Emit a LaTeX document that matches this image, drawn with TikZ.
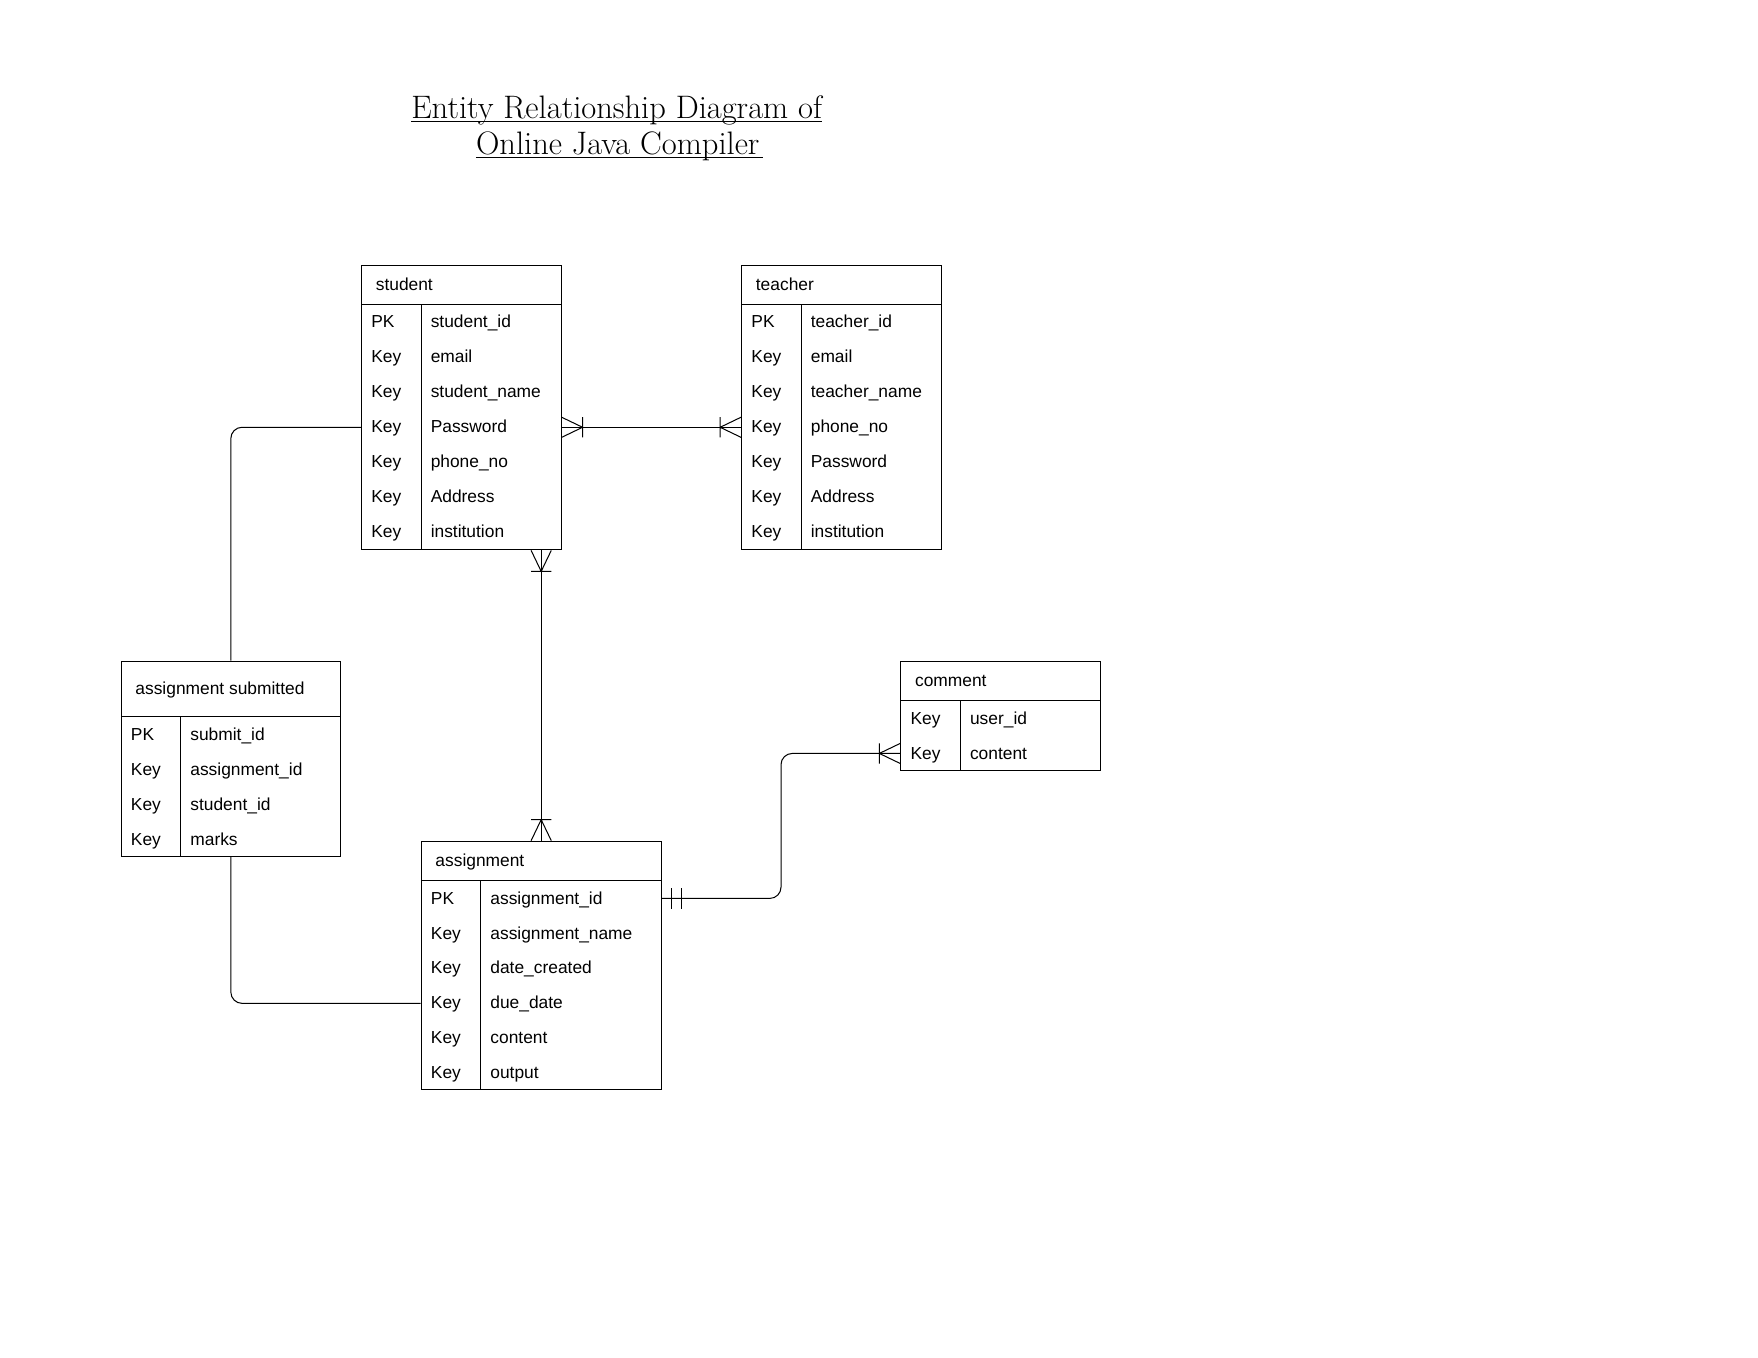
\documentclass[tikz,border=0pt]{standalone}
\usepackage{fontspec}
\setsansfont{Liberation Sans}
\usetikzlibrary{calc}

\newcommand{\entity}[6]% name, top left corner, width, height, head height, title
{\node[entitybox, minimum width=#3, minimum height=#4] (#1) at (#2) {};
\node[entitybox, minimum width=#3, minimum height=#5] (#1-head) at (#1.north west) {};
\node[headtext] (#1-title) at ([xshift=13pt]#1-head.west) {#6};
\draw[boxline] ([xshift=53.5pt]#1-head.south west) -- ([xshift=53.5pt]#1.south west);
}
\newcommand{\entityrows}[2]% name, key/field list
{\foreach \k/\f [count=\i] in {#2}
{\node[rowtext] (#1-k\i) at ([xshift=9pt, yshift=15.6pt-31.2pt*\i]#1-head.south west) {\k};
\node[rowtext] (#1-f\i) at ([xshift=62pt, yshift=15.6pt-31.2pt*\i]#1-head.south west) {\f};
}}
\newcommand{\crowfoot}[2]% end point, direction
{\begin{scope}[shift={(#1)}, rotate=#2]
\draw[relline] (0,9) -- (18.7,0) -- (0,-9) (18.7,9) -- (18.7,-9);
\end{scope}}
\newcommand{\onlyone}[2]% end point, direction
{\begin{scope}[shift={(#1)}, rotate=#2]
\draw[relline] (8.3,9) -- (8.3,-9) (17.2,9) -- (17.2,-9);
\end{scope}}

\tikzset{
boxline/.style={line width=0.9pt},
entitybox/.style={boxline, draw, anchor=north west, inner sep=0pt},
headtext/.style={anchor=west, inner sep=0pt, text height=12.5pt, text depth=2.5pt,
  font=\sffamily\fontsize{15.5}{18}\selectfont},
rowtext/.style={headtext},
relline/.style={line width=0.9pt},
titletext/.style={anchor=base, inner sep=0pt, font=\fontsize{29}{34}\selectfont}
}

\begin{document}
\begin{tikzpicture}[x=1pt, y=-1pt]
\useasboundingbox (0,0) rectangle (1568,1211);

% title
\node[titletext] (title1) at (550,106) {Entity Relationship Diagram of};
\node[titletext] (title2) at (551,138) {Online Java Compiler};
\draw[boxline] ([yshift=-2.5pt]title1.base west) -- ([yshift=-2.5pt]title1.base east);
\draw[boxline] ([yshift=-2.5pt]title2.base west) -- ([yshift=-2.5pt,xshift=3pt]title2.base east);

% entities
\entity{student}{322,236}{178pt}{254pt}{35pt}{student}
\entityrows{student}{PK/student\_id, Key/email, Key/student\_name, Key/Password,
  Key/phone\_no, Key/Address, Key/institution}

\entity{teacher}{661,236}{178pt}{254pt}{35pt}{teacher}
\entityrows{teacher}{PK/teacher\_id, Key/email, Key/teacher\_name, Key/phone\_no,
  Key/Password, Key/Address, Key/institution}

\entity{submitted}{107.6,589.3}{195.7pt}{174.2pt}{49.3pt}{assignment submitted}
\entityrows{submitted}{PK/submit\_id, Key/assignment\_id, Key/student\_id, Key/marks}

\entity{comment}{803,589.3}{178pt}{97.8pt}{35pt}{comment}
\entityrows{comment}{Key/user\_id, Key/content}

\entity{assignment}{375.2,749.8}{214.1pt}{221.8pt}{35pt}{assignment}
\entityrows{assignment}{PK/assignment\_id, Key/assignment\_name, Key/date\_created,
  Key/due\_date, Key/content, Key/output}

% relations
\draw[relline] (student.east |- student-k4) -- (teacher.west |- teacher-k4);
\crowfoot{student.east |- student-k4}{0}
\crowfoot{teacher.west |- teacher-k4}{180}

\draw[relline] (student.south -| assignment.north) -- (assignment.north);
\crowfoot{student.south -| assignment.north}{-90}
\crowfoot{assignment.north}{90}

\draw[relline, rounded corners=10pt] (student.west |- student-k4) -| (submitted.north);
\draw[relline, rounded corners=10pt] (submitted.south) |- (assignment.west |- assignment-k4);

\draw[relline, rounded corners=10pt] (assignment.east |- assignment-k1)
  -| ($(assignment.east)!0.5!(comment.west)$) |- (comment.west |- comment-k2);
\onlyone{assignment.east |- assignment-k1}{0}
\crowfoot{comment.west |- comment-k2}{180}
\end{tikzpicture}
\end{document}
